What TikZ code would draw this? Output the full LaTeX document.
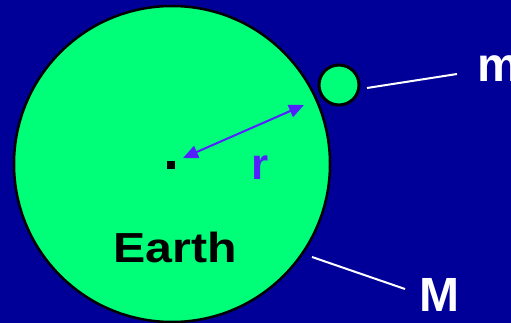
\documentclass[tikz,border=0pt]{standalone}
\usepackage{fontspec}
\setmainfont{Liberation Sans}
\usetikzlibrary{arrows.meta}
\definecolor{bgblue}{HTML}{000099}
\definecolor{earthgreen}{HTML}{00FF78}
\definecolor{arrowblue}{HTML}{5520FF}
\tikzset{
  body/.style={circle, draw=black, fill=earthgreen, inner sep=0pt, line width=2.5pt},
  pointer/.style={draw=white, line width=2pt},
  lbl/.style={font=\bfseries\fontsize{48}{48}\selectfont, text=white, inner sep=0pt, anchor=base west},
}
\begin{document}
\begin{tikzpicture}[x=1pt,y=-1pt]
\useasboundingbox (0,0) rectangle (511,323);
\fill[bgblue] (0,0) rectangle (511,323);
\node[body, minimum size=316pt] (earth) at (172,164) {};
\node[body, minimum size=40pt, line width=3pt] (moon) at (339,85) {};
\node[fill=black, minimum size=8pt, inner sep=0pt] (centre) at (171,165) {};
\coordinate (r1) at (183,158);
\coordinate (r2) at (304,105);
\draw[arrowblue, line width=2pt, {Triangle[length=15pt,width=13pt]}-{Triangle[length=15pt,width=13pt]}] (r1) -- (r2);
\node[font=\bfseries\fontsize{44}{44}\selectfont, text=arrowblue, inner sep=0pt, anchor=base] (rlabel) at (260,180) {r};
\node[font=\bfseries\fontsize{42}{42}\selectfont, inner sep=0pt, anchor=base, xscale=1.15] (earthlabel) at (175,262) {Earth};
\node[lbl] (mlabel) at (477,82) {m};
\node[lbl] (Mlabel) at (419,311) {M};
\coordinate (m1) at (367,88);
\coordinate (m2) at (457,74);
\coordinate (M1) at (312,257);
\coordinate (M2) at (405,289);
\draw[pointer] (m1) -- (m2);
\draw[pointer] (M1) -- (M2);
\end{tikzpicture}
\end{document}
